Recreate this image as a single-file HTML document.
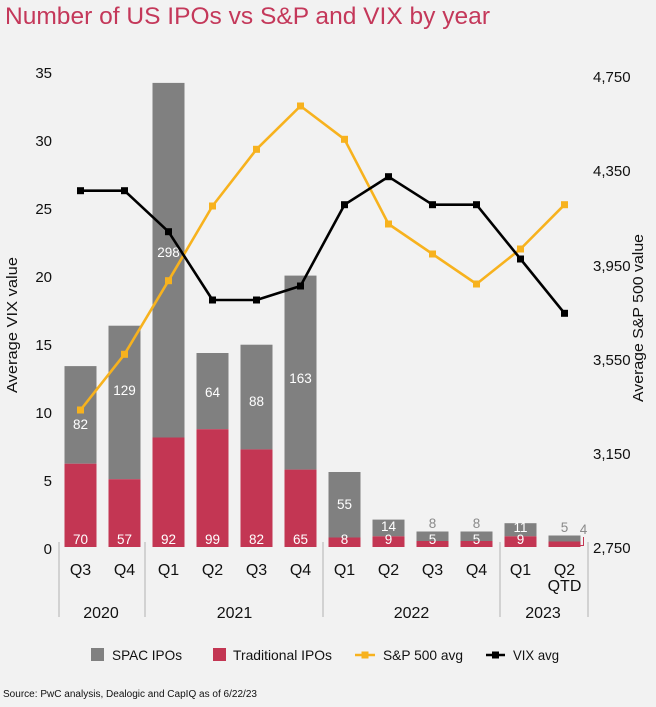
<!DOCTYPE html>
<html><head><meta charset="utf-8"><style>
html,body{margin:0;padding:0;background:#f2f2f2;}
svg{display:block;font-family:"Liberation Sans",Arial,sans-serif;}
</style></head><body>
<svg width="656" height="707" viewBox="0 0 656 707" xmlns="http://www.w3.org/2000/svg">
<rect width="656" height="707" fill="#f2f2f2"/>
<text x="5" y="24" font-size="24" fill="#c4385a" textLength="485" lengthAdjust="spacingAndGlyphs">Number of US IPOs vs S&amp;P and VIX by year</text>

<!-- left axis labels -->
<g font-size="15" fill="#111" text-anchor="end">
<text x="52" y="78">35</text>
<text x="52" y="146">30</text>
<text x="52" y="214">25</text>
<text x="52" y="282">20</text>
<text x="52" y="350">15</text>
<text x="52" y="418">10</text>
<text x="52" y="486">5</text>
<text x="52" y="554">0</text>
</g>
<!-- right axis labels -->
<g font-size="15" fill="#111">
<text x="593" y="82">4,750</text>
<text x="593" y="176">4,350</text>
<text x="593" y="271">3,950</text>
<text x="593" y="365">3,550</text>
<text x="593" y="459">3,150</text>
<text x="593" y="553">2,750</text>
</g>
<text transform="translate(17,325) rotate(-90)" font-size="15" fill="#111" text-anchor="middle" textLength="136" lengthAdjust="spacingAndGlyphs">Average VIX value</text>
<text transform="translate(643,318) rotate(-90)" font-size="15" fill="#111" text-anchor="middle" textLength="168" lengthAdjust="spacingAndGlyphs">Average S&amp;P 500 value</text>

<!-- bars -->
<g fill="#808080">
<rect x="64.5" y="366.1" width="32" height="97.6"/>
<rect x="108.5" y="325.7" width="32" height="153.5"/>
<rect x="152.5" y="82.9" width="32" height="354.6"/>
<rect x="196.5" y="353" width="32" height="76.2"/>
<rect x="240.5" y="344.7" width="32" height="104.7"/>
<rect x="284.5" y="275.6" width="32" height="194"/>
<rect x="328.5" y="472" width="32" height="65.5"/>
<rect x="372.5" y="519.6" width="32" height="16.7"/>
<rect x="416.5" y="531.5" width="32" height="9.5"/>
<rect x="460.5" y="531.5" width="32" height="9.5"/>
<rect x="504.5" y="523.2" width="32" height="13.1"/>
<rect x="548.5" y="535.5" width="32" height="6"/>
</g>
<g fill="#c33653">
<rect x="64.5" y="463.7" width="32" height="83.3"/>
<rect x="108.5" y="479.2" width="32" height="67.8"/>
<rect x="152.5" y="437.5" width="32" height="109.5"/>
<rect x="196.5" y="429.2" width="32" height="117.8"/>
<rect x="240.5" y="449.4" width="32" height="97.6"/>
<rect x="284.5" y="469.6" width="32" height="77.4"/>
<rect x="328.5" y="537.5" width="32" height="9.5"/>
<rect x="372.5" y="536.3" width="32" height="10.7"/>
<rect x="416.5" y="541" width="32" height="6"/>
<rect x="460.5" y="541" width="32" height="6"/>
<rect x="504.5" y="536.3" width="32" height="10.7"/>
<rect x="548.5" y="541.5" width="32" height="5.5"/>
</g>
<path d="M580.5,545.5 H583.5 V537" fill="none" stroke="#c33653" stroke-width="1"/>

<!-- bar labels -->
<g font-size="13.5" fill="#fff" text-anchor="middle">
<text x="80.5" y="544">70</text>
<text x="124.5" y="544">57</text>
<text x="168.5" y="544">92</text>
<text x="212.5" y="544">99</text>
<text x="256.5" y="544">82</text>
<text x="300.5" y="544">65</text>
<text x="344.5" y="544">8</text>
<text x="388.5" y="544">9</text>
<text x="432.5" y="544">5</text>
<text x="476.5" y="544">5</text>
<text x="520.5" y="544">9</text>
<text x="80.5" y="429">82</text>
<text x="124.5" y="395">129</text>
<text x="168.5" y="257">298</text>
<text x="212.5" y="397">64</text>
<text x="256.5" y="406">88</text>
<text x="300.5" y="383">163</text>
<text x="344.5" y="509">55</text>
<text x="388.5" y="531">14</text>
<text x="520.5" y="532">11</text>
</g>
<g font-size="13.5" fill="#8a8a8a" text-anchor="middle">
<text x="432.5" y="528">8</text>
<text x="476.5" y="528">8</text>
<text x="564.5" y="532">5</text>
<text x="583.5" y="534">4</text>
</g>

<!-- S&P line -->
<polyline fill="none" stroke="#f7b21e" stroke-width="2.6" stroke-linejoin="round" points="80.5,410 124.5,354.3 168.5,280.7 212.5,206 256.5,149.3 300.5,106 344.5,139.3 388.5,224 432.5,254 476.5,284 520.5,249 564.5,204.7"/>
<g fill="#f7b21e">
<rect x="77" y="406.5" width="7" height="7"/><rect x="121" y="350.8" width="7" height="7"/><rect x="165" y="277.2" width="7" height="7"/><rect x="209" y="202.5" width="7" height="7"/><rect x="253" y="145.8" width="7" height="7"/><rect x="297" y="102.5" width="7" height="7"/><rect x="341" y="135.8" width="7" height="7"/><rect x="385" y="220.5" width="7" height="7"/><rect x="429" y="250.5" width="7" height="7"/><rect x="473" y="280.5" width="7" height="7"/><rect x="517" y="245.5" width="7" height="7"/><rect x="561" y="201.2" width="7" height="7"/>
</g>
<!-- VIX line -->
<polyline fill="none" stroke="#000" stroke-width="2.6" stroke-linejoin="round" points="80.5,190.7 124.5,190.7 168.5,231.7 212.5,300 256.5,300 300.5,286 344.5,204.7 388.5,176.7 432.5,204.7 476.5,204.7 520.5,259 564.5,313.3"/>
<g fill="#000">
<rect x="77" y="187.2" width="7" height="7"/><rect x="121" y="187.2" width="7" height="7"/><rect x="165" y="228.2" width="7" height="7"/><rect x="209" y="296.5" width="7" height="7"/><rect x="253" y="296.5" width="7" height="7"/><rect x="297" y="282.5" width="7" height="7"/><rect x="341" y="201.2" width="7" height="7"/><rect x="385" y="173.2" width="7" height="7"/><rect x="429" y="201.2" width="7" height="7"/><rect x="473" y="201.2" width="7" height="7"/><rect x="517" y="255.5" width="7" height="7"/><rect x="561" y="309.8" width="7" height="7"/>
</g>

<!-- category separators -->
<g stroke="#bdbdbd" stroke-width="1.2">
<line x1="59" y1="542" x2="59" y2="617"/>
<line x1="145" y1="542" x2="145" y2="617"/>
<line x1="323" y1="542" x2="323" y2="617"/>
<line x1="500" y1="542" x2="500" y2="617"/>
<line x1="588" y1="542" x2="588" y2="617"/>
</g>
<g font-size="16" fill="#111" text-anchor="middle">
<text x="80.5" y="575">Q3</text>
<text x="124.5" y="575">Q4</text>
<text x="168.5" y="575">Q1</text>
<text x="212.5" y="575">Q2</text>
<text x="256.5" y="575">Q3</text>
<text x="300.5" y="575">Q4</text>
<text x="344.5" y="575">Q1</text>
<text x="388.5" y="575">Q2</text>
<text x="432.5" y="575">Q3</text>
<text x="476.5" y="575">Q4</text>
<text x="520.5" y="575">Q1</text>
<text x="564.5" y="575">Q2</text>
<text x="564.5" y="591">QTD</text>
<text x="101" y="618">2020</text>
<text x="234.5" y="618">2021</text>
<text x="411.5" y="618">2022</text>
<text x="543" y="618">2023</text>
</g>

<!-- legend -->
<rect x="91" y="648" width="13" height="13" fill="#808080"/>
<text x="112" y="660" font-size="14" fill="#111" textLength="70" lengthAdjust="spacingAndGlyphs">SPAC IPOs</text>
<rect x="213" y="648" width="13" height="13" fill="#c33653"/>
<text x="233" y="660" font-size="14" fill="#111" textLength="99" lengthAdjust="spacingAndGlyphs">Traditional IPOs</text>
<line x1="355" y1="655" x2="375" y2="655" stroke="#f7b21e" stroke-width="2.6"/>
<rect x="361.5" y="651.5" width="7" height="7" fill="#f7b21e"/>
<text x="383" y="660" font-size="14" fill="#111" textLength="80" lengthAdjust="spacingAndGlyphs">S&amp;P 500 avg</text>
<line x1="486" y1="655" x2="505" y2="655" stroke="#000" stroke-width="2.6"/>
<rect x="492" y="651.5" width="7" height="7" fill="#000"/>
<text x="513" y="660" font-size="14" fill="#111" textLength="46" lengthAdjust="spacingAndGlyphs">VIX avg</text>

<text x="3" y="697" font-size="10" fill="#111" textLength="254" lengthAdjust="spacingAndGlyphs">Source: PwC analysis, Dealogic and CapIQ as of 6/22/23</text>
</svg>
</body></html>
